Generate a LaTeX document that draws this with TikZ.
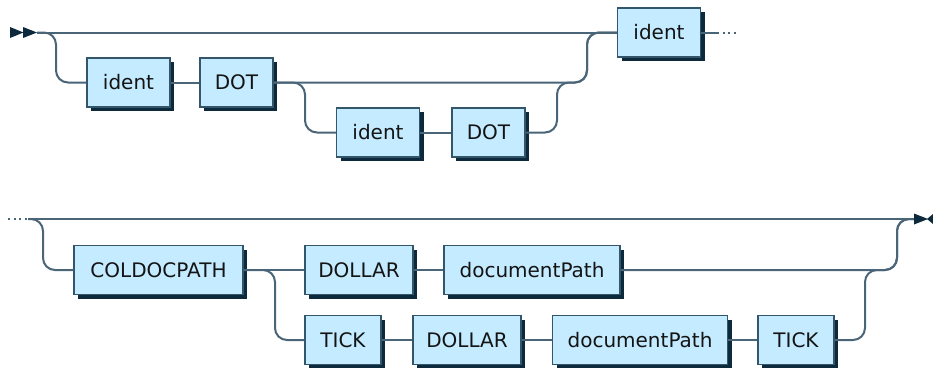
\documentclass[tikz,border=0pt]{standalone}
\usepackage{fontspec}
\setmainfont{DejaVu Sans}
\usetikzlibrary{shadows}
\definecolor{rrline}{HTML}{4A6478}
\definecolor{rrfill}{HTML}{C4EBFF}
\definecolor{rrborder}{HTML}{34566B}
\definecolor{rrshadow}{HTML}{0D2A3C}
\definecolor{rrtext}{HTML}{141414}
\begin{document}
\begin{tikzpicture}[x=1pt,y=-1pt,
  tbox/.style={draw=rrborder, fill=rrfill, line width=1.4pt, rectangle,
    minimum height=49pt, inner sep=0pt, text=rrtext,
    font=\fontsize{20}{24}\selectfont,
    drop shadow={shadow xshift=4pt, shadow yshift=-4pt, fill=rrshadow, opacity=1}},
  rr/.style={draw=rrline, line width=2pt, rounded corners=12pt},
  rrdots/.style={draw=rrline, line width=2pt, dash pattern=on 2pt off 3.5pt},
  tip/.style={fill=rrshadow}]
\useasboundingbox (0,0) rectangle (933,367);

% ---------- row 1 ----------
\node[tbox, minimum width=83pt] (id1) at (128.5,82.5) {ident};
\node[tbox, minimum width=73pt] (dot1) at (236.5,82.5) {DOT};
\node[tbox, minimum width=83pt] (id2) at (378,132.5) {ident};
\node[tbox, minimum width=73pt] (dot2) at (488.5,132.5) {DOT};
\node[tbox, minimum width=83pt] (id3) at (659,32.5) {ident};

\coordinate (start) at (37,32.5);
\coordinate (b1) at (56,82.5);
\coordinate (b2) at (305,132.5);
\coordinate (j2) at (557,82.5);
\coordinate (jr1) at (587,32.5);
\coordinate (e1) at (717,32.5);
\coordinate (e1b) at (737,32.5);

\fill[tip] (10,27) -- (23.5,32.5) -- (10,38) -- cycle;
\fill[tip] (23,27) -- (37,32.5) -- (23,38) -- cycle;

\draw[rr] (start) -- (id3.west);
\draw[rr] (start) -| (b1) -- (id1.west);
\draw[rr] (id1.east) -- (dot1.west);
\draw[rr] (dot1.east) -| (jr1) -- (id3.west);
\draw[rr] (dot1.east) -| (b2) -- (id2.west);
\draw[rr] (id2.east) -- (dot2.west);
\draw[rr] (dot2.east) -| (j2) -| (jr1) -- (id3.west);
\draw[rr] (id3.east) -- (e1);
\draw[rrdots] (e1) -- (e1b);

% ---------- row 2 ----------
\node[tbox, minimum width=169pt] (cdp) at (158.5,270) {COLDOCPATH};
\node[tbox, minimum width=108pt] (dol1) at (359,270) {DOLLAR};
\node[tbox, minimum width=176pt] (dp1) at (532,270) {documentPath};
\node[tbox, minimum width=76pt] (tick1) at (343,340) {TICK};
\node[tbox, minimum width=108pt] (dol2) at (467,340) {DOLLAR};
\node[tbox, minimum width=175pt] (dp2) at (640,340) {documentPath};
\node[tbox, minimum width=76pt] (tick2) at (796,340) {TICK};

\coordinate (s2a) at (8,219);
\coordinate (s2) at (28,219);
\coordinate (b3) at (43,270);
\coordinate (b4) at (275,340);
\coordinate (j3) at (865,270);
\coordinate (jr2) at (897,219);
\coordinate (fin) at (914,219);

\draw[rrdots] (s2a) -- (s2);
\draw[rr] (s2) -- (fin);
\draw[rr] (s2) -| (b3) -- (cdp.west);
\draw[rr] (cdp.east) -- (dol1.west);
\draw[rr] (cdp.east) -| (b4) -- (tick1.west);
\draw[rr] (dol1.east) -- (dp1.west);
\draw[rr] (dp1.east) -| (jr2) -- (fin);
\draw[rr] (tick1.east) -- (dol2.west);
\draw[rr] (dol2.east) -- (dp2.west);
\draw[rr] (dp2.east) -- (tick2.west);
\draw[rr] (tick2.east) -| (j3) -| (jr2) -- (fin);

\fill[tip] (914,213.5) -- (928,219) -- (914,224.5) -- cycle;
\fill[tip] (927,219) -- (933,214) -- (933,224) -- cycle;
\end{tikzpicture}
\end{document}
